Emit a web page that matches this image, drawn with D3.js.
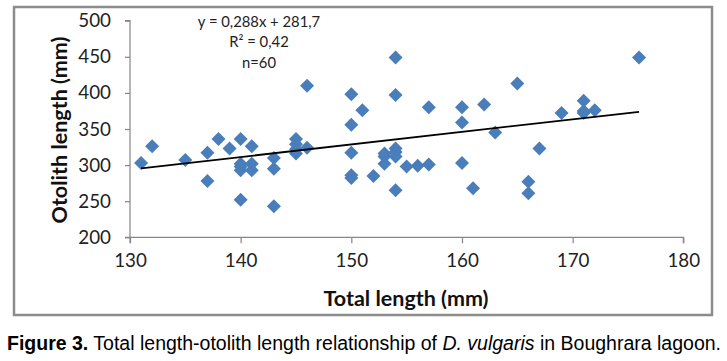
<!DOCTYPE html>
<html><head><meta charset="utf-8">
<script src="https://cdn.jsdelivr.net/npm/d3@7"></script>
<style>body{margin:0;background:#fff}svg{display:block}</style>
</head><body>
<svg id="c" width="727" height="361"></svg>
<script>
// Data
const totalLength = [131,132,135,137,137,138,139,140,141,140,140,140,141,141,143,143,143,145,145,145,146,146,150,151,150,150,150,150,152,153,153,154,154,154,154,154,155,156,157,157,160,160,160,161,162,163,165,166,166,167,169,171,171,172,176,140,145,153,154,171];
const otolithLength = [303,326,307,317,278,336,323,336,326,252,302,293,302,293,243,310,295,336,329,316,324,410,398,376,356,317,286,282,285,316,302,323,312,265,449,397,298,299,301,380,303,380,359,268,384,345,413,277,261,323,372,389,372,376,449,298,322,312,318,375];
const trendX = [131, 176];
const trendY = [295.5, 373.8];
const xTicks = [130,140,150,160,170,180];
const yTicks = [200,250,300,350,400,450,500];
const eqLines = ["y = 0,288x + 281,7", "R² = 0,42", "n=60"];

const svg = d3.select("#c");
const font = "Lato, 'Open Sans', sans-serif";
const axisCol = "#868686";

// outer frame
svg.append("rect").attr("x",14).attr("y",7).attr("width",698).attr("height",308)
  .attr("fill","#fff").attr("stroke","#8c8c8c").attr("stroke-width",2.5);

const x = d3.scaleLinear().domain([130,180]).range([130,683.3]);
const y = d3.scaleLinear().domain([200,500]).range([237.3,20.7]);

// axes
const gx = svg.append("g").attr("transform",`translate(0,${y(200)})`)
  .call(d3.axisBottom(x).tickValues(xTicks).tickSize(6).tickPadding(10));
const gy = svg.append("g").attr("transform",`translate(${x(130)},0)`)
  .call(d3.axisLeft(y).tickValues(yTicks).tickSize(5).tickPadding(14));
[gx,gy].forEach(g=>{
  g.selectAll("path,line").attr("stroke",axisCol).attr("stroke-width",1.2);
  g.selectAll("text").attr("font-family",font).attr("font-size",18.8).attr("fill","#222");
});
gx.select(".domain").attr("d",`M${x(130)},6V0H${x(180)}V6`);
gy.select(".domain").attr("d",`M-5,${y(500)}H0V${y(200)}H-5`);

// points
svg.append("g").selectAll("path").data(totalLength.map((d,i)=>[d,otolithLength[i]]))
  .join("path")
  .attr("d", d3.symbol().type(d3.symbolDiamond2).size(125))
  .attr("transform", d=>`translate(${x(d[0])},${y(d[1])})`)
  .attr("fill","#4a7ebb");

// trend line
svg.append("line")
  .attr("x1",x(trendX[0])).attr("y1",y(trendY[0]))
  .attr("x2",x(trendX[1])).attr("y2",y(trendY[1]))
  .attr("stroke","#000").attr("stroke-width",1.8);

// equation
svg.append("g").selectAll("text").data(eqLines).join("text")
  .attr("x",259).attr("y",(d,i)=>26.5+i*20.5)
  .attr("text-anchor","middle").attr("font-family",font).attr("font-size",14.8)
  .attr("fill","#222").text(d=>d);

// axis titles
svg.append("text").attr("x",406).attr("y",306).attr("text-anchor","middle")
  .attr("font-family",font).attr("font-weight","bold").attr("font-size",21.5)
  .attr("fill","#111").text("Total length (mm)");
svg.append("text").attr("transform","translate(67,130) rotate(-90)").attr("text-anchor","middle")
  .attr("font-family",font).attr("font-weight","bold").attr("font-size",21.5)
  .attr("fill","#111").text("Otolith length (mm)");

// caption
const cap = svg.append("text").attr("x",7).attr("y",350)
  .attr("font-family","'Liberation Sans', Arial, sans-serif").attr("font-size",19.5).attr("fill","#000");
cap.append("tspan").attr("font-weight","bold").text("Figure 3.");
cap.append("tspan").text(" Total length-otolith length relationship of ");
cap.append("tspan").attr("font-style","italic").text("D. vulgaris");
cap.append("tspan").text(" in Boughrara lagoon.");
</script>
</body></html>
